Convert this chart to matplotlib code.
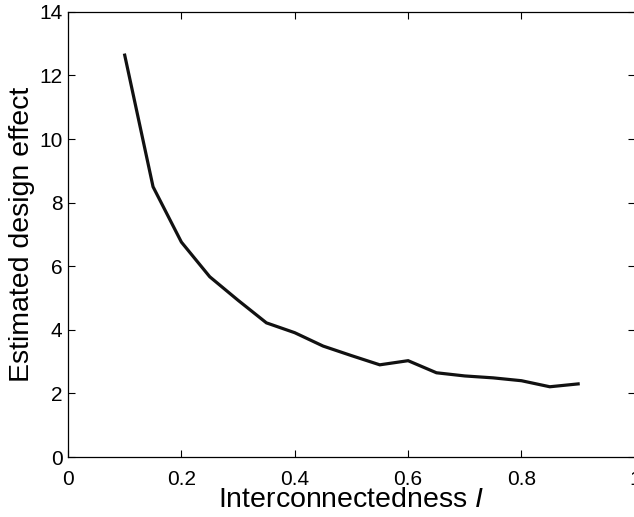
import matplotlib
matplotlib.use('Agg')
import matplotlib.pyplot as plt

# interconnectedness values and estimated design effect
interconn = [0.1, 0.15, 0.2, 0.25, 0.3, 0.35, 0.4, 0.45, 0.5, 0.55, 0.6, 0.65, 0.7, 0.75, 0.8, 0.85, 0.9]
design_eff = [12.64, 8.5, 6.76, 5.67, 4.93, 4.22, 3.91, 3.49, 3.19, 2.90, 3.03, 2.65, 2.55, 2.49, 2.40, 2.21, 2.30]
xticks = [0, 0.2, 0.4, 0.6, 0.8, 1]
xticklabels = ['0', '0.2', '0.4', '0.6', '0.8', '1']
yticks = [0, 2, 4, 6, 8, 10, 12, 14]

plt.rcParams['font.family'] = ['Liberation Sans', 'DejaVu Sans']
plt.rcParams['mathtext.fontset'] = 'custom'
plt.rcParams['mathtext.it'] = 'Liberation Sans:italic'

fig = plt.figure(figsize=(6.34, 5.17), dpi=100)
ax = fig.add_axes([0.1073, 0.116, 0.894, 0.861])

ax.plot(interconn, design_eff, color='#111111', lw=2.3, solid_joinstyle='miter')

ax.set_xlim(0, 1)
ax.set_ylim(0, 14)
ax.set_xticks(xticks)
ax.set_xticklabels(xticklabels)
ax.set_yticks(yticks)
ax.tick_params(direction='in', length=5, width=0.8, labelsize=15, top=True, right=True)
ax.tick_params(axis='x', pad=9)
ax.tick_params(axis='y', pad=4)
for s in ax.spines.values():
    s.set_linewidth(0.9)

ax.set_xlabel(r'Interconnectedness $\mathit{I}$', fontsize=20.5, labelpad=-1)
ax.set_ylabel('Estimated design effect', fontsize=20.5, labelpad=3)

fig.savefig('out.png', dpi=100)
